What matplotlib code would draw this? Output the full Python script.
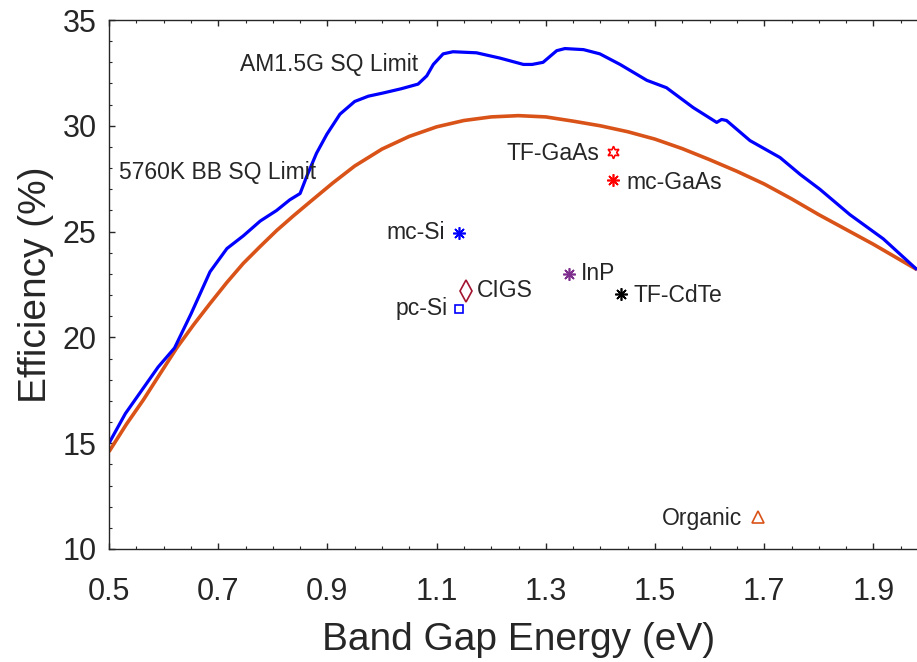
import numpy as np
import matplotlib.pyplot as plt
from matplotlib.ticker import MultipleLocator

plt.rcParams['font.family'] = ['Liberation Sans', 'DejaVu Sans']

# Shockley-Queisser limit under the AM1.5G spectrum
am15_eg = [0.50, 0.53, 0.56, 0.59, 0.62, 0.65, 0.685, 0.716, 0.746, 0.777, 0.807,
           0.831, 0.85, 0.862, 0.88, 0.899, 0.923, 0.950, 0.975, 1.002, 1.035,
           1.066, 1.082, 1.094, 1.112, 1.13, 1.173, 1.216, 1.259, 1.275, 1.295,
           1.32, 1.335, 1.369, 1.399, 1.436, 1.485, 1.521, 1.570, 1.613, 1.622,
           1.631, 1.674, 1.729, 1.766, 1.802, 1.857, 1.918, 1.98]
am15_eff = [15.0, 16.4, 17.5, 18.6, 19.5, 21.1, 23.1, 24.2, 24.8, 25.5, 26.0,
            26.5, 26.8, 27.6, 28.7, 29.6, 30.55, 31.15, 31.4, 31.55, 31.75,
            31.97, 32.36, 32.9, 33.4, 33.5, 33.45, 33.2, 32.9, 32.9, 33.0,
            33.55, 33.65, 33.6, 33.4, 32.9, 32.15, 31.8, 30.86, 30.16, 30.3,
            30.25, 29.3, 28.5, 27.7, 27.0, 25.8, 24.66, 23.2]

# Shockley-Queisser limit for a 5760 K blackbody sun
bb_eg = [0.50, 0.532, 0.563, 0.594, 0.624, 0.655, 0.685, 0.716, 0.746, 0.777,
         0.807, 0.838, 0.868, 0.91, 0.95, 1.00, 1.05, 1.10, 1.15, 1.20, 1.25,
         1.30, 1.35, 1.40, 1.45, 1.50, 1.55, 1.60, 1.65, 1.70, 1.75, 1.80,
         1.85, 1.90, 1.98]
bb_eff = [14.6, 15.9, 17.05, 18.3, 19.5, 20.6, 21.6, 22.6, 23.5, 24.3,
          25.05, 25.75, 26.4, 27.3, 28.1, 28.9, 29.5, 29.95, 30.25, 30.42, 30.48,
          30.42, 30.22, 30.0, 29.72, 29.37, 28.92, 28.4, 27.85, 27.25, 26.55, 25.8,
          25.1, 24.4, 23.2]

# record cells: name, band gap, efficiency
cell_names = ['TF-GaAs', 'mc-GaAs', 'mc-Si', 'InP', 'CIGS', 'TF-CdTe', 'pc-Si', 'Organic']
cell_eg = [1.423, 1.423, 1.141, 1.342, 1.154, 1.438, 1.141, 1.689]
cell_eff = [28.75, 27.45, 24.95, 23.0, 22.2, 22.05, 21.35, 11.5]

ast = (8, 2, 0)
styles = {
    'TF-GaAs': dict(marker=(6, 1, 0), color='#FF0000', ms=9, fill=False),
    'mc-GaAs': dict(marker=ast, color='#FF0000', ms=9, fill=True),
    'mc-Si': dict(marker=ast, color='#0000FF', ms=9, fill=True),
    'InP': dict(marker=ast, color='#7E2F8E', ms=9, fill=True),
    'CIGS': dict(marker='d', color='#A2142F', ms=11, fill=False),
    'TF-CdTe': dict(marker=ast, color='#000000', ms=9, fill=True),
    'pc-Si': dict(marker='s', color='#0000FF', ms=6, fill=False),
    'Organic': dict(marker='^', color='#D95319', ms=8, fill=False),
}
# label anchor: x, y, horizontal alignment
label_pos = {
    'TF-GaAs': (1.399, 28.7, 'right'),
    'mc-GaAs': (1.447, 27.3, 'left'),
    'mc-Si': (1.115, 24.95, 'right'),
    'InP': (1.364, 23.0, 'left'),
    'CIGS': (1.174, 22.2, 'left'),
    'TF-CdTe': (1.46, 22.0, 'left'),
    'pc-Si': (1.121, 21.35, 'right'),
    'Organic': (1.659, 11.45, 'right'),
}

fig = plt.figure(figsize=(9.17, 6.62), dpi=100)
ax = fig.add_axes([109 / 917, 113 / 662, 819 / 917, 529 / 662])

ax.plot(bb_eg, bb_eff, color='#D95319', lw=2.6, solid_capstyle='butt')
ax.plot(am15_eg, am15_eff, color='#0000FF', lw=2.3, solid_capstyle='butt')

for name, eg, eff in zip(cell_names, cell_eg, cell_eff):
    st = styles[name]
    ax.plot(eg, eff, linestyle='none', marker=st['marker'], markersize=st['ms'],
            markeredgecolor=st['color'],
            markerfacecolor=st['color'] if st['fill'] else 'none',
            markeredgewidth=1.2)
    lx, ly, ha = label_pos[name]
    ax.text(lx, ly, name, ha=ha, va='center', fontsize=16.5, color='#262626')

ax.text(0.740, 32.9, 'AM1.5G SQ Limit', ha='left', va='center', fontsize=16.5, color='#262626')
ax.text(0.518, 27.8, '5760K BB SQ Limit', ha='left', va='center', fontsize=16.5, color='#262626')

ax.set_xlim(0.5, 2.0)
ax.set_ylim(10, 35)
ax.xaxis.set_minor_locator(MultipleLocator(0.05))
ax.yaxis.set_major_locator(MultipleLocator(5))
ax.yaxis.set_minor_locator(MultipleLocator(1))
ax.set_xticks(np.arange(0.5, 2.0, 0.2))
ax.set_xticklabels(['0.5', '0.7', '0.9', '1.1', '1.3', '1.5', '1.7', '1.9'])

for s in ax.spines.values():
    s.set_color('#262626')
    s.set_linewidth(1.0)
ax.tick_params(which='both', direction='in', top=True, right=True, colors='#262626')
ax.tick_params(which='major', length=4, width=1.0)
ax.tick_params(which='minor', length=2, width=0.8)
ax.tick_params(axis='x', which='major', labelsize=22, pad=20)
ax.tick_params(axis='y', which='major', labelsize=22, pad=9)

ax.set_xlabel('Band Gap Energy (eV)', fontsize=28, color='#262626', labelpad=11)
ax.set_ylabel('Efficiency (%)', fontsize=28, color='#262626', labelpad=6)

fig.savefig('out.png', dpi=100)
